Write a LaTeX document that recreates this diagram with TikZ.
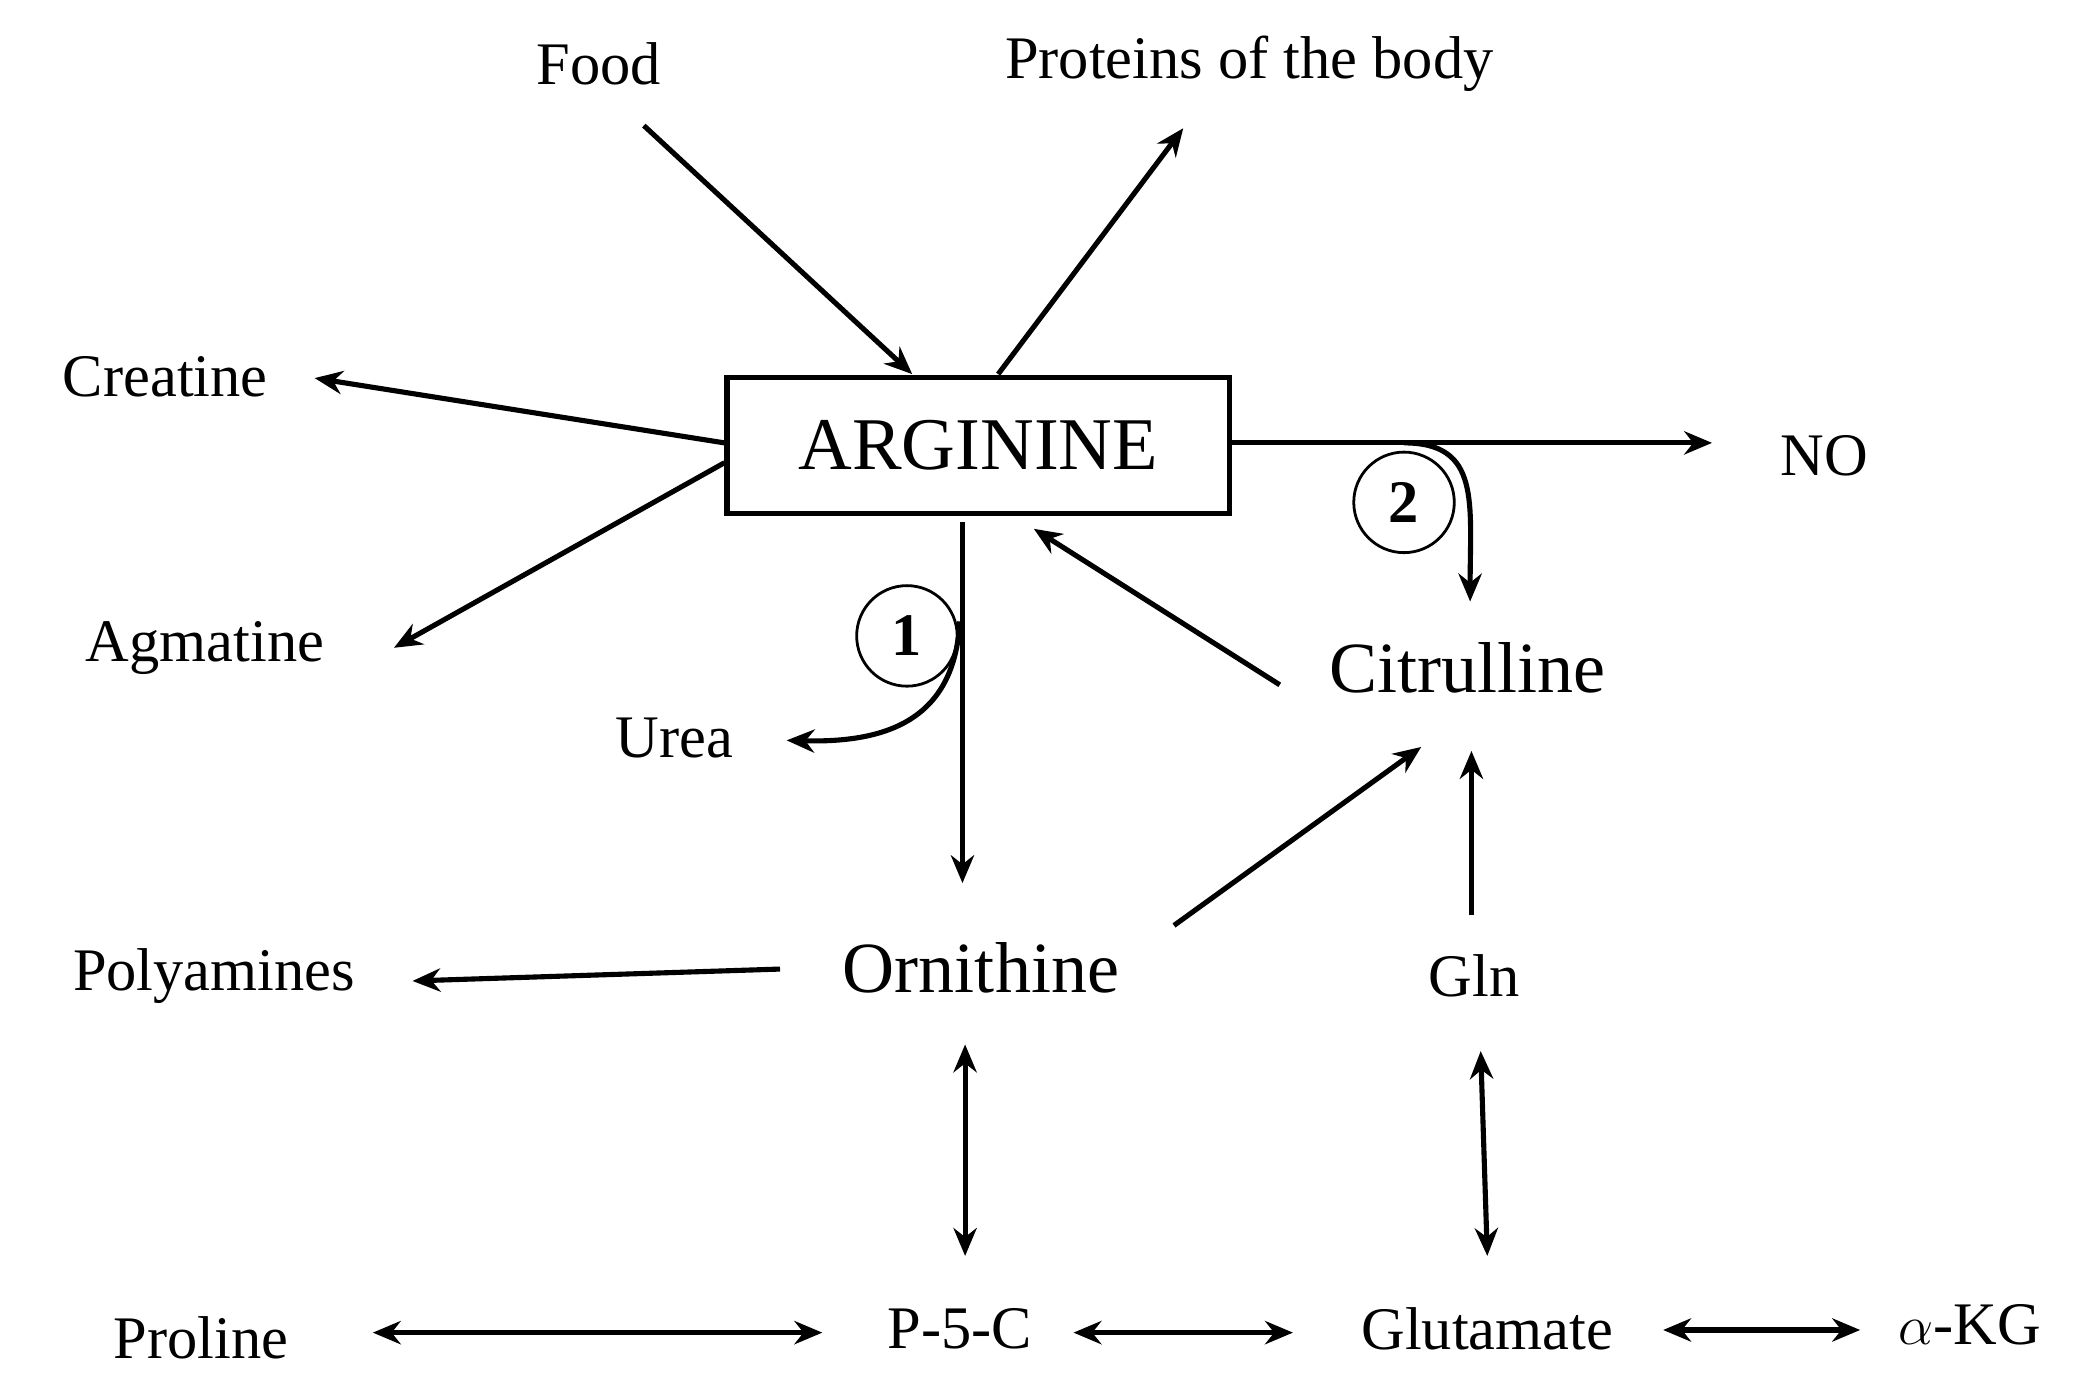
\documentclass[tikz,border=0pt]{standalone}
\usepackage{fontspec}
\setmainfont{Liberation Serif}
\usetikzlibrary{arrows.meta}
\begin{document}
\begin{tikzpicture}[x=0.01cm,y=-0.01cm,
  lbl/.style={inner sep=0pt,font=\fontsize{13}{15}\selectfont},
  big/.style={inner sep=0pt,font=\fontsize{15.5}{18}\selectfont},
  arr/.style={line width=1.1pt,-{Stealth[length=6pt,width=5pt]}},
  darr/.style={line width=1.1pt,{Stealth[length=6pt,width=5pt]}-{Stealth[length=6pt,width=5pt]}},
  num/.style={circle,draw,line width=0.6pt,minimum size=0.76cm,inner sep=0pt,font=\bfseries\fontsize{13}{15}\selectfont}]
\useasboundingbox (0,0) rectangle (1568,1040);
\node[lbl] (food) at (453,48) {Food};
\node[lbl] (prot) at (945,48) {Proteins of the body};
\node[lbl] (crea) at (125,285) {Creatine};
\node[draw,line width=1.1pt,minimum width=3.8cm,minimum height=1.03cm,font=\fontsize{16}{19}\selectfont] (arg) at (740,337) {ARGININE};
\node[lbl] (no) at (1380,345) {NO};
\node[lbl] (agm) at (155,490) {Agmatine};
\node[lbl] (urea) at (510,558) {Urea};
\node[big] (cit) at (1110,505) {Citrulline};
\node[big] (orn) at (742,732) {Ornithine};
\node[lbl] (poly) at (162,738) {Polyamines};
\node[lbl] (gln) at (1115,738) {Gln};
\node[lbl] (pro) at (152,1012) {Proline};
\node[lbl] (p5c) at (726,1005) {P-5-C};
\node[lbl] (glu) at (1125,1005) {Glutamate};
\node[lbl] (akg) at (1490,1002) {$\alpha$-KG};
\node[num] (n1) at (686,481) {1};
\node[num] (n2) at (1062,380) {2};

\draw[arr] (487,95) -- (690,283);
\draw[arr] (755,283) -- (895,97);
\draw[arr] (arg.west |- 0,335) -- (238,286);
\draw[arr] (548,350) -- (298,490);
\draw[arr] (arg.east |- 0,335) -- (1295,335);
\coordinate (b2) at (1062,335);
\draw[arr] (b2) .. controls (1120,335) and (1112,380) .. (1112,455);
\draw[arr] (728,395) -- (728,668);
\coordinate (b1) at (726,470);
\draw[arr] (b1) .. controls (722,545) and (670,562) .. (595,560);
\draw[arr] (968,518) -- (782,400);
\draw[arr] (888,700) -- (1075,565);
\draw[arr] (1113,692) -- (1113,568);
\draw[arr] (590,733) -- (312,742);
\draw[darr] (730,790) -- (730,950);
\draw[darr] (1120,795) -- (1125,950);
\draw[darr] (282,1008) -- (622,1008);
\draw[darr] (812,1008) -- (978,1008);
\draw[darr] (1258,1006) -- (1407,1006);
\end{tikzpicture}
\end{document}
